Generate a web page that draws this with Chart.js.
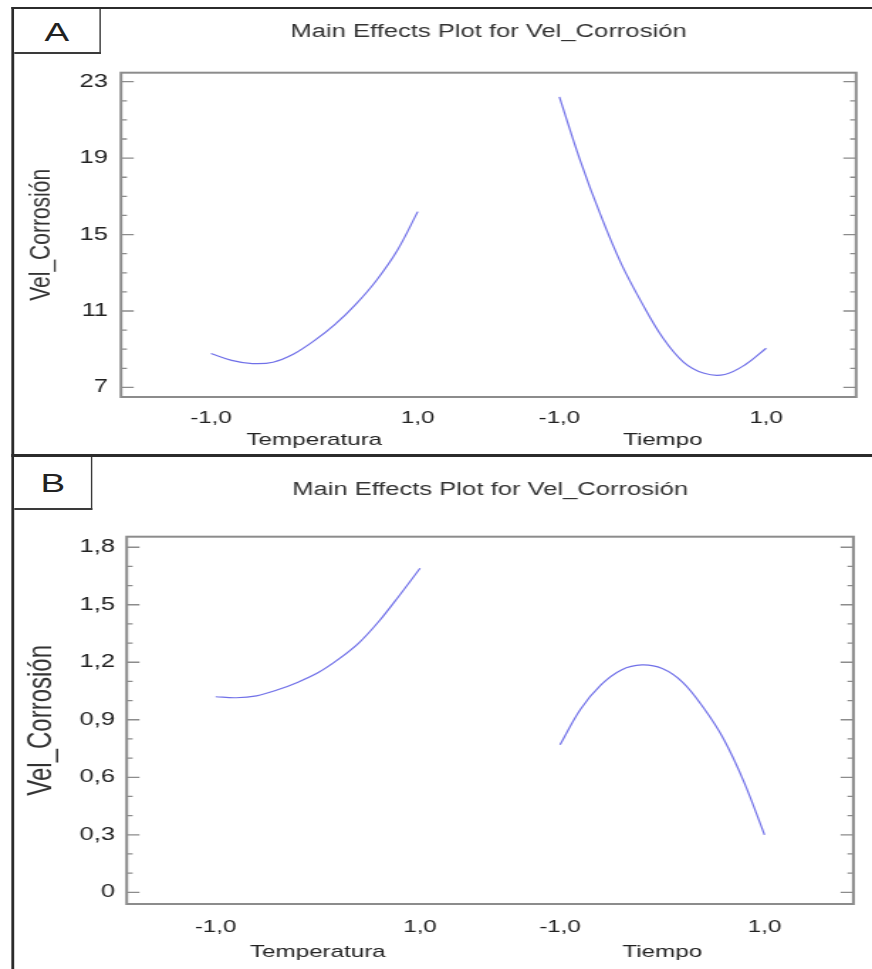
<!DOCTYPE html>
<html>
<head>
<meta charset="utf-8">
<script src="https://cdn.jsdelivr.net/npm/chart.js@4.4.1/dist/chart.umd.min.js"></script>
<style>
  html, body { margin: 0; padding: 0; background: #fff; }
  /* the original figure is stretched sideways, so draw narrow and widen */
  #page { position: absolute; left: 0; top: 0; width: 614px; height: 969px; transform: scaleX(1.4202); transform-origin: 0 0; overflow: hidden; }
  canvas { position: absolute; left: 0; }
  #chartA { top: 0; }
  #chartB { top: 455px; }
  .rule { position: absolute; background: #2b2b2b; }
  .tag { position: absolute; box-sizing: border-box; background: #fff; border-right: 1.9px solid #3a3a3a; border-bottom: 2.6px solid #3a3a3a; font: 26px 'Liberation Sans', Arial, sans-serif; color: #222; text-align: center; }
</style>
</head>
<body>
<div id="page">
  <canvas id="chartA" width="614" height="455"></canvas>
  <canvas id="chartB" width="614" height="514"></canvas>
  <div class="rule" style="left:7.7px; top:6.7px; width:607px; height:2.6px"></div>
  <div class="rule" style="left:7.7px; top:6.7px; width:2.2px; height:963px"></div>
  <div class="rule" style="left:7.7px; top:454px; width:607px; height:2.6px"></div>
  <div class="tag" style="left:9.9px; top:9.3px; width:61.2px; height:45px; line-height:43px; padding-top:2px">A</div>
  <div class="tag" style="left:9.9px; top:456.6px; width:55.6px; height:53.4px; line-height:51px; padding-top:1px">B</div>
</div>
<script>
// factor levels (coded units) where each curve was read
const levels = [-1, -0.8, -0.6, -0.4, -0.2, 0, 0.2, 0.4, 0.6, 0.8, 1];
const factors = ['Temperatura', 'Tiempo'];
const levelLabels = ['-1,0', '1,0'];
const chartTitle = 'Main Effects Plot for Vel_Corrosión';
const yTitle = 'Vel_Corrosión';

// panel A
const tempA = [8.78, 8.42, 8.25, 8.32, 8.75, 9.45, 10.3, 11.35, 12.6, 14.15, 16.2];
const timeA = [22.2, 18.9, 16.0, 13.45, 11.4, 9.6, 8.33, 7.74, 7.68, 8.2, 9.05];
const yTicksA = [7, 11, 15, 19, 23];
const yLabelsA = ['7', '11', '15', '19', '23'];

// panel B
const tempB = [1.02, 1.015, 1.025, 1.055, 1.095, 1.145, 1.215, 1.3, 1.415, 1.55, 1.69];
const timeB = [0.77, 0.955, 1.082, 1.16, 1.186, 1.167, 1.095, 0.965, 0.8, 0.575, 0.3];
const yTicksB = [0, 0.3, 0.6, 0.9, 1.2, 1.5, 1.8];
const yLabelsB = ['0', '0,3', '0,6', '0,9', '1,2', '1,5', '1,8'];

// distance between the two factor blocks on the shared x axis
const GAP = 3.37;

Chart.defaults.font.family = "'Liberation Sans', Arial, sans-serif";
Chart.defaults.color = '#222';

// plot frame plus inward ticks on both sides
const frameTicks = {
  id: 'frameTicks',
  beforeDatasetsDraw(chart) {
    const { ctx, chartArea: a, scales: { y } } = chart;
    ctx.save();
    ctx.strokeStyle = '#8c8c8c';
    ctx.lineWidth = 1.3;
    y.ticks.forEach(t => {
      const py = y.getPixelForValue(t.value);
      const len = t.label ? 9 : 4.2;
      ctx.beginPath();
      ctx.moveTo(a.left, py); ctx.lineTo(a.left + len, py);
      ctx.moveTo(a.right, py); ctx.lineTo(a.right - len, py);
      ctx.stroke();
    });
    ctx.lineWidth = 2;
    ctx.strokeRect(a.left, a.top, a.right - a.left, a.bottom - a.top);
    ctx.restore();
  }
};

function pts(values, shift) {
  return values.map((v, i) => ({ x: levels[i] + shift, y: v }));
}

function makeChart(id, temp, time, yTicks, yLabels, o) {
  const line = {
    borderColor: 'rgb(112,112,232)',
    borderWidth: 1.2,
    pointRadius: 0,
    tension: 0.35,
    fill: false
  };
  const noGrid = { display: false, drawTicks: false };
  return new Chart(document.getElementById(id), {
    type: 'line',
    data: {
      datasets: [
        Object.assign({ label: factors[0], data: pts(temp, 0) }, line),
        Object.assign({ label: factors[1], data: pts(time, GAP) }, line)
      ]
    },
    options: {
      responsive: false,
      animation: false,
      layout: { padding: { left: 0, right: o.padRight, top: 0, bottom: 0 } },
      plugins: {
        legend: { display: false },
        tooltip: { enabled: false },
        title: {
          display: true,
          text: chartTitle,
          fullSize: false,
          color: '#333',
          font: { size: 18, weight: 'normal', lineHeight: 1.2 },
          padding: { top: o.titleTop, bottom: o.titleBottom }
        }
      },
      scales: {
        x: {
          type: 'linear',
          position: 'bottom',
          weight: 0,
          min: -1.87,
          max: 5.24,
          grid: noGrid,
          border: { display: false },
          afterBuildTicks: ax => { ax.ticks = [-1, 1, GAP - 1, GAP + 1].map(v => ({ value: v })); },
          afterFit: ax => { ax.height = o.xH; },
          ticks: {
            autoSkip: false,
            maxRotation: 0,
            padding: o.xTickPad,
            font: { size: 17, lineHeight: 1.2 },
            callback: (v, i) => levelLabels[i % 2]
          }
        },
        x2: {
          type: 'linear',
          position: 'bottom',
          weight: 1,
          min: -1.87,
          max: 5.24,
          grid: noGrid,
          border: { display: false },
          afterBuildTicks: ax => { ax.ticks = [0, GAP].map(v => ({ value: v })); },
          afterFit: ax => { ax.height = o.x2H; },
          ticks: {
            autoSkip: false,
            maxRotation: 0,
            padding: o.x2Pad,
            font: { size: 17, lineHeight: 1.2 },
            callback: (v, i) => factors[i]
          }
        },
        y: {
          type: 'linear',
          min: o.yMin,
          max: o.yMax,
          grid: noGrid,
          border: { display: false },
          afterBuildTicks: ax => {
            const out = [];
            const n = Math.round((yTicks[yTicks.length - 1] - yTicks[0]) / o.minor);
            for (let i = 0; i <= n; i++) out.push({ value: +(yTicks[0] + i * o.minor).toFixed(3) });
            ax.ticks = out;
          },
          afterFit: ax => { ax.width = o.yWidth; },
          ticks: {
            autoSkip: false,
            padding: o.yTickPad,
            font: { size: 18, lineHeight: 1.2 },
            callback: v => {
              const k = yTicks.findIndex(t => Math.abs(t - v) < 1e-6);
              return k >= 0 ? yLabels[k] : '';
            }
          },
          title: {
            display: true,
            text: yTitle,
            color: '#333',
            font: { size: o.yTitleSize, lineHeight: 1.2 },
            padding: { top: o.yTitlePad, bottom: 0 }
          }
        }
      }
    },
    plugins: [frameTicks]
  });
}

makeChart('chartA', tempA, timeA, yTicksA, yLabelsA, {
  yMin: 6.5, yMax: 23.47, minor: 1,
  yTitleSize: 21, yTitlePad: 16.3, yWidth: 85.2, yTickPad: 9.1,
  padRight: 11.2, titleTop: 21.2, titleBottom: 29.9,
  xTickPad: 11.1, xH: 32, x2Pad: 1.3, x2H: 26
});

makeChart('chartB', tempB, timeB, yTicksB, yLabelsB, {
  yMin: -0.061, yMax: 1.855, minor: 0.1,
  yTitleSize: 24, yTitlePad: 14.5, yWidth: 89.2, yTickPad: 8.2,
  padRight: 13.1, titleTop: 24.2, titleBottom: 35.9,
  xTickPad: 12.8, xH: 33, x2Pad: 4.8, x2H: 32
});
</script>
</body>
</html>
